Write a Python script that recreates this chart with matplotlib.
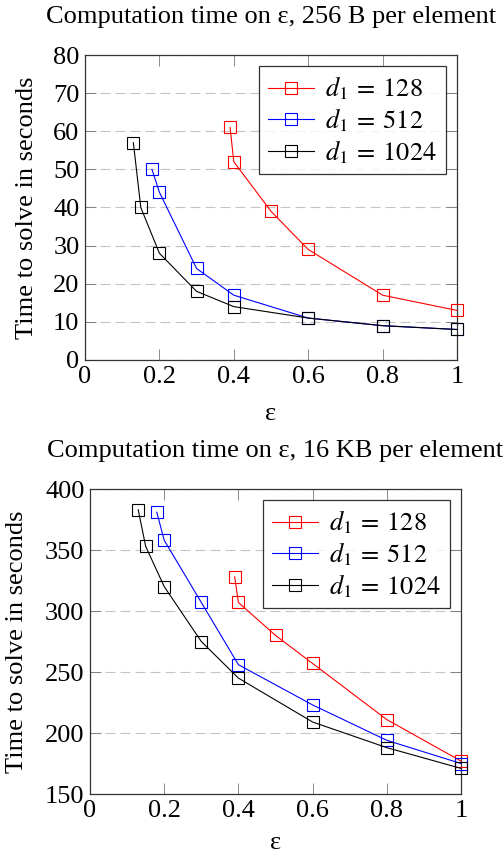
import matplotlib
matplotlib.use("Agg")
import matplotlib.pyplot as plt

plt.rcParams['font.family'] = ['Liberation Serif', 'DejaVu Serif']
plt.rcParams['mathtext.fontset'] = 'stix'

# Top chart: 256 B per element
top_x_128 = [0.39, 0.4, 0.5, 0.6, 0.8, 1.0]
top_y_128 = [61, 52, 39, 29, 17, 13]
top_x_512 = [0.18, 0.2, 0.3, 0.4, 0.6, 0.8, 1.0]
top_y_512 = [50, 44, 24, 17, 11, 9, 8]
top_x_1024 = [0.13, 0.15, 0.2, 0.3, 0.4, 0.6, 0.8, 1.0]
top_y_1024 = [57, 40, 28, 18, 14, 11, 9, 8]

# Bottom chart: 16 KB per element
bot_x_128 = [0.39, 0.4, 0.5, 0.6, 0.8, 1.0]
bot_y_128 = [328, 307, 280, 257, 211, 177]
bot_x_512 = [0.18, 0.2, 0.3, 0.4, 0.6, 0.8, 1.0]
bot_y_512 = [381, 358, 307, 256, 223, 194, 175]
bot_x_1024 = [0.13, 0.15, 0.2, 0.3, 0.4, 0.6, 0.8, 1.0]
bot_y_1024 = [383, 353, 320, 275, 245, 209, 188, 171]

x_ticks = [0, 0.2, 0.4, 0.6, 0.8, 1]
x_tick_labels = ['0', '0.2', '0.4', '0.6', '0.8', '1']
top_y_ticks = [0, 10, 20, 30, 40, 50, 60, 70, 80]
bot_y_ticks = [150, 200, 250, 300, 350, 400]

labels = [r'$d_1\:=\:128$', r'$d_1\:=\:512$', r'$d_1\:=\:1024$']
colors = ['#ff0000', '#0000ff', '#000000']

FS = 19

fig = plt.figure(figsize=(5.03, 8.55), dpi=100)
ax1 = fig.add_axes([85 / 503, 1 - 360 / 855, 372 / 503, 305 / 855])
ax2 = fig.add_axes([90 / 503, 1 - 794 / 855, 371 / 503, 305 / 855])


def style(ax, title, series, yticks, ylim, ylab_x, xlab_y):
    for (xs, ys), lab, c in zip(series, labels, colors):
        ax.plot(xs, ys, color=c, lw=0.8, marker='s', markersize=8,
                markerfacecolor='none', markeredgecolor=c, markeredgewidth=0.8,
                label=lab, clip_on=False, zorder=3)
    ax.set_xlim(0, 1)
    ax.set_ylim(*ylim)
    ax.set_xticks(x_ticks)
    ax.set_xticklabels(x_tick_labels)
    ax.set_yticks(yticks)
    ax.tick_params(direction='in', top=True, right=True, labelsize=FS,
                   length=8, width=0.6, color='#777777')
    ax.tick_params(axis='x', pad=4)
    ax.tick_params(axis='y', pad=4)
    ax.yaxis.grid(True, linestyle=(0, (9, 4.5)), color='#c4c4c4', lw=0.8)
    ax.set_axisbelow(True)
    for s in ax.spines.values():
        s.set_linewidth(0.9)
        s.set_color('#333333')
    ax.set_xlabel('ε', fontsize=FS)
    ax.xaxis.label.set_va('baseline')
    ax.xaxis.set_label_coords(0.5, xlab_y)
    ax.set_ylabel('Time to solve in seconds', fontsize=FS)
    ax.yaxis.label.set_va('center')
    ax.yaxis.set_label_coords(ylab_x, 0.5)
    ax.text(0.5, 1 + 38 / 305, title, transform=ax.transAxes, ha='center',
            va='center', fontsize=FS, clip_on=False)
    leg = ax.legend(loc='upper right', fontsize=19, frameon=True, fancybox=False,
                    edgecolor='black', handlelength=1.75, handletextpad=0.42,
                    borderpad=0.33, labelspacing=0.15, borderaxespad=0.42)
    leg.get_frame().set_linewidth(0.9)


style(ax1, 'Computation time on ε, 256 B per element',
      [(top_x_128, top_y_128), (top_x_512, top_y_512), (top_x_1024, top_y_1024)],
      top_y_ticks, (0, 80), (27 - 85) / 372, -60 / 305)
style(ax2, 'Computation time on ε, 16 KB per element',
      [(bot_x_128, bot_y_128), (bot_x_512, bot_y_512), (bot_x_1024, bot_y_1024)],
      bot_y_ticks, (150, 400), (17 - 90) / 371, -55 / 305)

fig.savefig('out.png', dpi=100)
